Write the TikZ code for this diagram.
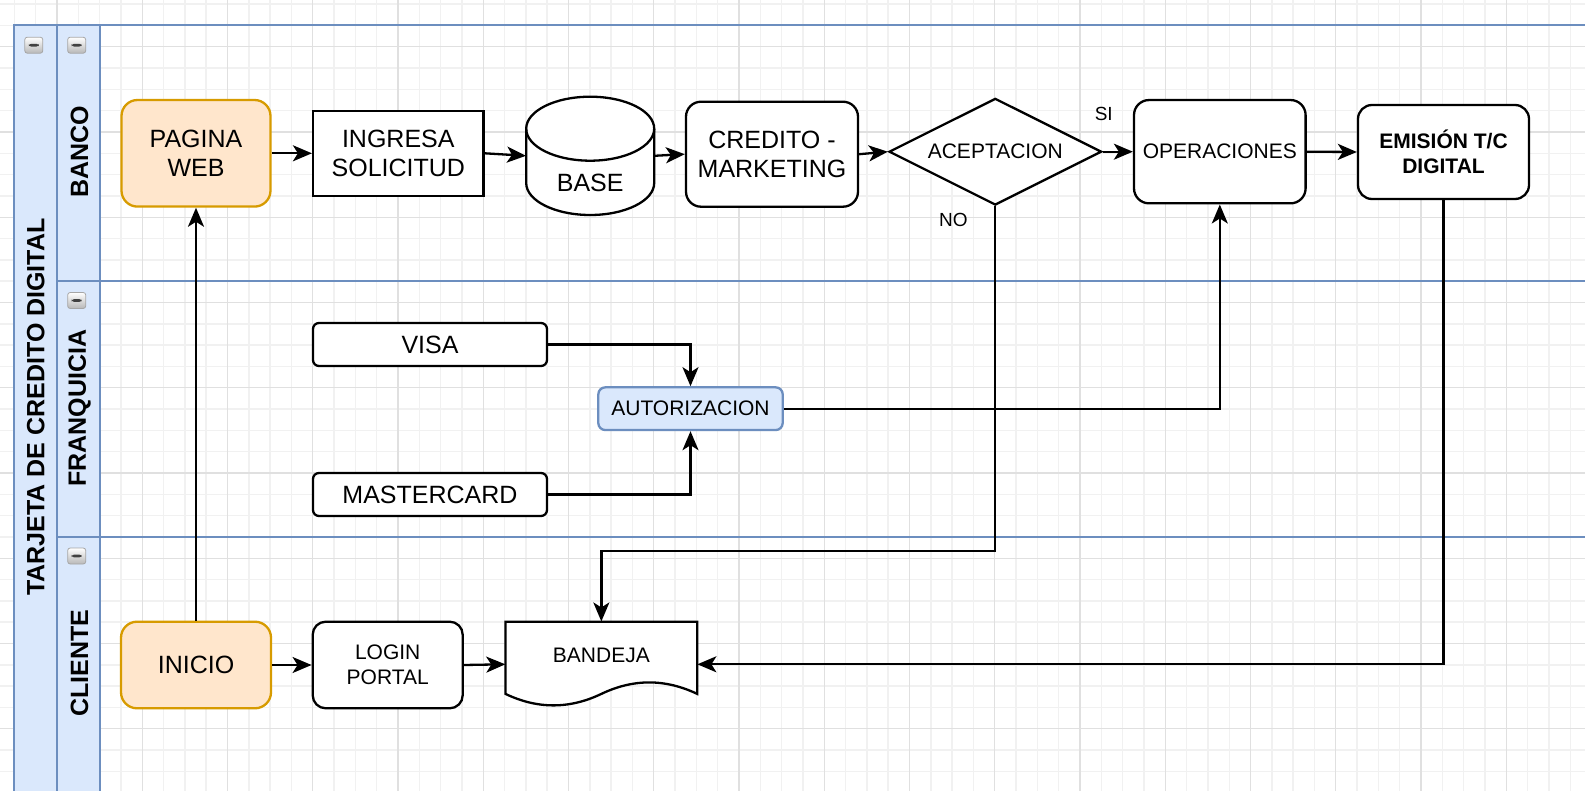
\documentclass[tikz,border=0pt]{standalone}
\usepackage{fontspec}
\setmainfont{Liberation Sans}
\usetikzlibrary{arrows.meta,calc,shapes.geometric}

\definecolor{lanefill}{HTML}{DAE8FC}
\definecolor{lanedraw}{HTML}{6C8EBF}
\definecolor{orfill}{HTML}{FFE6CC}
\definecolor{ordraw}{HTML}{D79B00}
\definecolor{gridminor}{HTML}{F1F1F1}
\definecolor{gridmajor}{HTML}{E0E0E0}

\begin{document}
\begin{tikzpicture}[x=1pt,y=-1pt,
  big/.style={font=\fontsize{25}{28.5}\selectfont},
  small/.style={font=\fontsize{21}{24.5}\selectfont},
  shapeline/.style={draw=black, line width=2.3pt},
  box/.style={shapeline, fill=white, align=center, inner sep=0pt},
  rbox/.style={box, rounded corners=15pt},
  startbox/.style={box, draw=ordraw, fill=orfill, rounded corners=16pt},
  pill/.style={box, rounded corners=6pt},
  authbox/.style={box, draw=lanedraw, fill=lanefill, rounded corners=7pt},
  arr/.style={line width=2.3pt, -{Stealth[length=19pt,width=16pt,inset=5pt]}},
  edgelbl/.style={font=\fontsize{19}{22}\selectfont, inner sep=0pt},
  lanetitle/.style={font=\bfseries\fontsize{25}{28}\selectfont, rotate=90, inner sep=0pt},
  laneline/.style={draw=lanedraw, line width=2pt},
  gridmin/.style={draw=gridminor, line width=1.4pt},
  gridmaj/.style={draw=gridmajor, line width=1.4pt},
  collapse/.style={rounded corners=2.5pt, minimum width=18pt, minimum height=16pt,
    inner sep=0pt, top color=white, bottom color=black!28, draw=black!35, line width=0.8pt,
    path picture={\fill[black!75] ($(path picture bounding box.center)+(-5pt,-1.4pt)$) rectangle ++(10pt,2.8pt);}}
]
\useasboundingbox (0,0) rectangle (1585,791);
\clip (0,0) rectangle (1585,791);

% background grid
\fill[white] (0,0) rectangle (1585,791);
\foreach \i in {0,...,76} \draw[gridmin] ({-28.25+21.3125*\i},0) -- ++(0,791);
\foreach \j in {0,...,39} \draw[gridmin] (0,{-38.5+21.3125*\j}) -- ++(1585,0);
\foreach \i in {0,...,19} \draw[gridmaj] ({-28.25+85.25*\i},0) -- ++(0,791);
\foreach \j in {0,...,10} \draw[gridmaj] (0,{-38.5+85.25*\j}) -- ++(1585,0);

% pool and lanes
\fill[lanefill] (14.4,25.4) rectangle (99.6,800);
\draw[laneline] (14.4,800) -- (14.4,25.4) -- (1600,25.4);
\draw[laneline] (57,25.4) -- (57,800);
\draw[laneline] (99.6,25.4) -- (99.6,800);
\draw[laneline] (57,281.2) -- (1600,281.2);
\draw[laneline] (57,536.9) -- (1600,536.9);

\node[lanetitle] (pooltitle) at (35.8,407) {TARJETA DE CREDITO DIGITAL};
\node[lanetitle] (banco) at (79.5,152) {BANCO};
\node[lanetitle] (franquicia) at (79.5,408) {FRANQUICIA};
\node[lanetitle] (cliente) at (79.5,663) {CLIENTE};

\node[collapse] (iconpool) at (33.8,45.2) {};
\node[collapse] (iconbanco) at (76.7,45.2) {};
\node[collapse] (iconfranq) at (76.7,300.5) {};
\node[collapse] (iconcliente) at (76.7,556) {};

% BANCO lane
\node[startbox, big, minimum width=149pt, minimum height=106.6pt] (web) at (196,153.3) {PAGINA\\WEB};
\node[box, big, minimum width=170.5pt, minimum height=85.2pt] (ing) at (398.3,153.3) {INGRESA\\SOLICITUD};

\coordinate (basec) at (590.2,155.8);
\draw[shapeline, fill=white] ($(basec)+(-64,-27.1)$) -- ($(basec)+(-64,27.2)$)
  arc[start angle=180, end angle=360, x radius=64pt, y radius=32pt]
  -- ($(basec)+(64,-27.1)$)
  arc[start angle=0, end angle=180, x radius=64pt, y radius=32pt] -- cycle;
\draw[shapeline] ($(basec)+(-64,-27.1)$) arc[start angle=180, end angle=360, x radius=64pt, y radius=32pt];
\node[minimum width=128pt, minimum height=118.3pt, inner sep=0pt,
  label={[big, yshift=-27.5pt]center:BASE}] (base) at (basec) {};

\node[rbox, big, minimum width=172pt, minimum height=105pt] (cred) at (772,154.2) {CREDITO -\\MARKETING};
\node[diamond, aspect=2, shapeline, fill=white, small, inner sep=0pt, minimum width=212.6pt, minimum height=106.7pt] (acep) at (995.3,151.7) {ACEPTACION};
\node[rbox, small, minimum width=171.6pt, minimum height=103.3pt] (oper) at (1219.8,151.7) {OPERACIONES};
\node[rbox, small, font=\bfseries\fontsize{21}{25.5}\selectfont, rounded corners=14pt, minimum width=171pt, minimum height=94pt] (emis) at (1443.5,152) {EMISIÓN T/C\\DIGITAL};

% FRANQUICIA lane
\node[pill, big, minimum width=234pt, minimum height=43pt] (visa) at (430,344.5) {VISA};
\node[authbox, small, minimum width=184.4pt, minimum height=42.7pt] (auto) at (690.5,408.7) {AUTORIZACION};
\node[pill, big, minimum width=234pt, minimum height=43pt] (master) at (430,494.5) {MASTERCARD};

% CLIENTE lane
\node[startbox, big, minimum width=150pt, minimum height=86.6pt] (inicio) at (196,665) {INICIO};
\node[rbox, small, rounded corners=13pt, minimum width=150pt, minimum height=86.6pt] (login) at (387.7,665) {LOGIN\\PORTAL};

\draw[shapeline, fill=white] (505.5,621.7) -- (697.2,621.7) -- (697.2,693.9)
  .. controls (665.2,678.6) and (633.3,678.6) .. (601.35,693.9)
  .. controls (569.4,709.2) and (537.5,709.2) .. (505.5,693.9) -- cycle;
\node[minimum width=191.7pt, minimum height=85.3pt, inner sep=0pt,
  label={[small, yshift=9.3pt]center:BANDEJA}] (bandeja) at (601.35,664.3) {};

% connectors
\draw[arr] (web.east) -- (ing.west);
\draw[arr] (ing.east) -- (base.west);
\draw[arr] (base.east) -- (cred.west);
\draw[arr] (cred.east) -- (acep.west);
\draw[arr] (acep.east) -- node[edgelbl, pos=0, xshift=1pt, yshift=38pt] (si) {SI} (oper.west);
\draw[arr] (oper.east) -- (emis.west);
\draw[arr] (acep.south) -- node[edgelbl, pos=0, xshift=-42pt, yshift=-14pt] (no) {NO} ++(0,345) -| (bandeja.north);
\draw[arr] (emis.south) |- (bandeja.east);
\draw[arr] (inicio.north) -- (web.south);
\draw[arr] (inicio.east) -- (login.west);
\draw[arr] (login.east) -- (bandeja.west);
\draw[arr] (visa.east) -| (auto.north);
\draw[arr] (master.east) -| (auto.south);
\draw[arr] (auto.east) -| (oper.south);
\end{tikzpicture}
\end{document}
